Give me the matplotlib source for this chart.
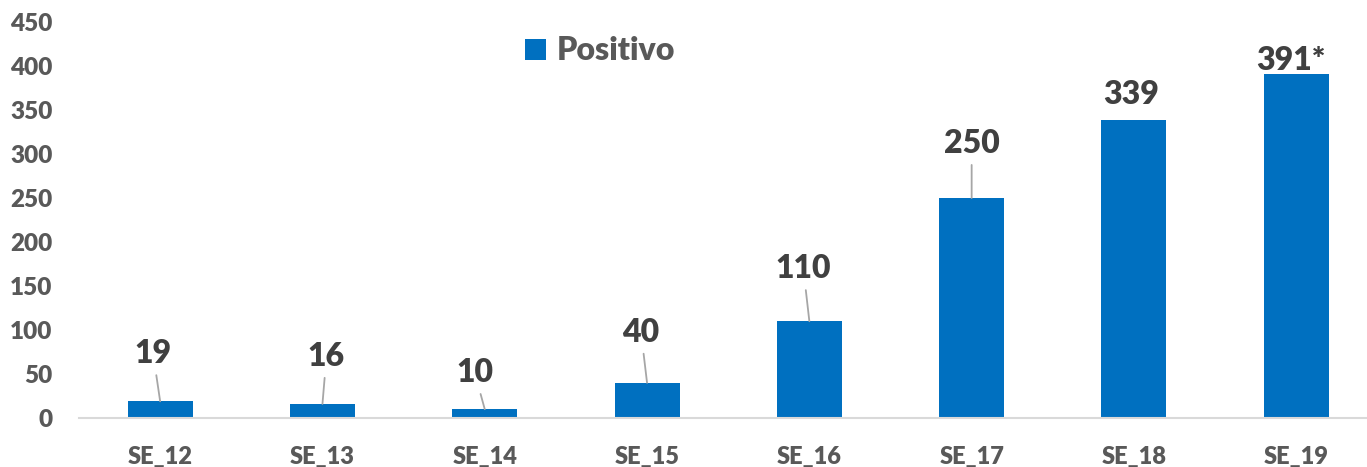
import matplotlib
matplotlib.use('Agg')
import matplotlib.pyplot as plt

plt.rcParams['font.family'] = ['Lato', 'DejaVu Sans']
plt.rcParams['font.weight'] = 'heavy'

# ── data ──────────────────────────────────────────────────────────────
weeks = ['SE_12', 'SE_13', 'SE_14', 'SE_15', 'SE_16', 'SE_17', 'SE_18', 'SE_19']
positivo = [19, 16, 10, 40, 110, 250, 339, 391]
value_labels = ['19', '16', '10', '40', '110', '250', '339', '391*']
y_ticks = [0, 50, 100, 150, 200, 250, 300, 350, 400, 450]

# label offsets from bar top (pixels) and whether a leader line is drawn
label_dx = [-7, 4, -10, -6, -6, 0, -3, -5]
label_dy = [38, 38, 27, 41, 43, 45, 16, 4]
leader = [True, True, True, True, True, True, False, False]

BLUE = '#0070C0'
TICK_COL = '#595959'
LABEL_COL = '#404040'
W = 'heavy'

fig = plt.figure(figsize=(13.67, 4.67), dpi=100)
ax = fig.add_axes([79 / 1367, 1 - 418 / 467, 1298.4 / 1367, 396 / 467])

x = list(range(len(weeks)))
ax.bar(x, positivo, width=0.40, color=BLUE, label='Positivo', zorder=2)

for xi, v, txt, dx, dy, ld in zip(x, positivo, value_labels,
                                  label_dx, label_dy, leader):
    props = dict(arrowstyle='-', color='#A6A6A6', lw=1.3,
                 shrinkA=3, shrinkB=0) if ld else None
    ax.annotate(txt, xy=(xi, v), xytext=(dx, dy), textcoords='offset pixels',
                ha='center', va='baseline', fontsize=23, fontweight=W,
                color=LABEL_COL, arrowprops=props)

ax.set_xlim(-0.5, len(weeks) - 0.5)
ax.set_ylim(0, 450)
ax.set_yticks(y_ticks)
ax.set_xticks(x)
ax.set_xticklabels(weeks)

for s in ('top', 'right', 'left'):
    ax.spines[s].set_visible(False)
ax.spines['bottom'].set_color('#D9D9D9')
ax.spines['bottom'].set_linewidth(1.5)

ax.tick_params(axis='y', length=0, pad=19, labelsize=17.5, labelcolor=TICK_COL)
ax.tick_params(axis='x', length=0, pad=20, labelsize=17, labelcolor=TICK_COL)
for lab in ax.get_xticklabels() + ax.get_yticklabels():
    lab.set_fontweight(W)

leg = ax.legend(loc='center', bbox_to_anchor=(600 / 1367, 1 - 51 / 467),
                bbox_transform=fig.transFigure, frameon=False,
                fontsize=23, handlelength=0.65, handleheight=0.65,
                handletextpad=0.35, borderpad=0)
for t in leg.get_texts():
    t.set_color(TICK_COL)
    t.set_fontweight(W)

fig.savefig('out.png', dpi=100)
